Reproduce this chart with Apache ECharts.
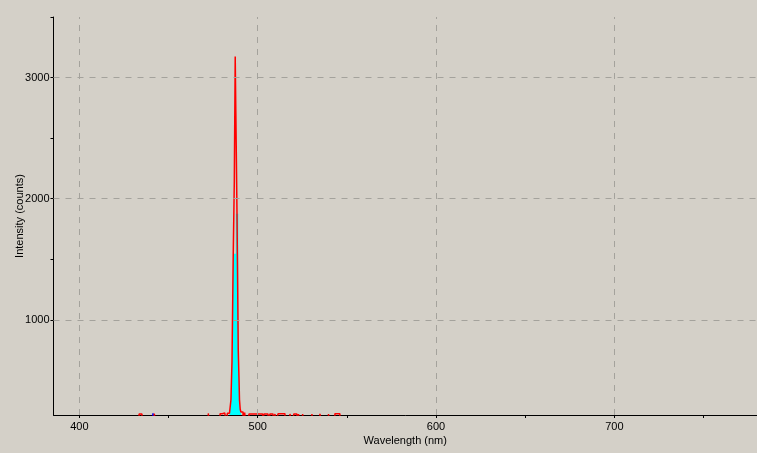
<!DOCTYPE html>
<html>
<head>
<meta charset="utf-8">
<script src="https://cdn.jsdelivr.net/npm/echarts@6/dist/echarts.min.js"></script>
<style>
html,body{margin:0;padding:0;background:#d4d0c8;}
#chart{width:757px;height:453px;}
</style>
</head>
<body>
<div id="chart"></div>
<script>
// Axis ranges and ticks
const xMin = 385.5, xMax = 780;
const yMin = 215, yMax = 3500;
const xTickValues = [400, 450, 500, 550, 600, 650, 700, 750];
const xLabelValues = [400, 500, 600, 700];
const yTickValues = [1000, 1500, 2000, 2500, 3000, 3500];
const yLabelValues = [1000, 2000, 3000];
const xGridValues = [400, 500, 600, 700];
const yGridValues = [1000, 2000, 3000];

// Red spectrum (step, value holds to the right of each wavelength)
const redWavelengths = [385.5, 433.5, 435.1, 442.0, 442.8, 472.3, 472.8, 478.9, 480.2, 481.5, 482.6, 483.0,
  484.2, 485.0, 485.6, 486.3, 486.9, 487.4, 487.75, 488.4, 489.1, 489.5, 489.8, 490.2, 490.6, 491.8,
  492.7, 493.2, 495.1, 502.8, 503.5, 505.8, 506.9, 508.6, 509.7, 510.3, 511.4, 515.3, 518.1, 519.2,
  520.3, 522.0, 522.9, 523.4, 525.2, 525.7, 530.4, 531.1, 534.9, 536.0, 539.7, 540.2, 543.3, 546.1, 780];
const redValues = [150, 223, 150, 226, 150, 228, 150, 226, 232, 226, 150, 230,
  241, 339, 655, 1545, 2149, 3174, 2711, 1876, 752, 531, 340, 262, 240, 150,
  235, 150, 223, 150, 223, 150, 223, 150, 223, 150, 225, 150, 223, 150,
  223, 150, 223, 150, 223, 150, 223, 150, 225, 150, 223, 150, 225, 150, 150];

// Cyan filled spectrum
const cyanWavelengths = [483.0, 484.2, 485.0, 485.6, 486.3, 487.75, 489.1, 489.5, 489.8, 490.2, 490.6, 491.4];
const cyanValues = [150, 235, 320, 640, 1545, 1876, 752, 531, 340, 262, 235, 150];

// Blue trace
const blueWavelengths = [440.8, 441.3, 442.2, 443.0];
const blueValues = [150, 229, 150, 150];

const zip = (xs, ys) => xs.map((x, i) => [x, ys[i]]);

const font = 'Liberation Sans, Arial, sans-serif';
const chart = echarts.init(document.getElementById('chart'), null, {renderer: 'canvas'});

const gridLineStyle = {color: '#a4a29c', width: 1, type: [6, 6]};

chart.setOption({
  backgroundColor: '#d4d0c8',
  animation: false,
  grid: {left: 53.5, top: 17, right: 0, bottom: 38, containLabel: false, outerBoundsMode: 'none'},
  xAxis: {
    type: 'value', min: xMin, max: xMax,
    name: 'Wavelength (nm)', nameLocation: 'middle', nameGap: 20, nameMoveOverlap: false,
    nameTextStyle: {color: '#000', fontSize: 11, fontFamily: font},
    axisLine: {show: true, lineStyle: {color: '#000', width: 1}},
    axisTick: {show: true, length: 3, customValues: xTickValues, lineStyle: {color: '#000'}},
    axisLabel: {color: '#000', fontSize: 11, fontFamily: font, margin: 6, customValues: xLabelValues,
      formatter: v => String(v)},
    splitLine: {show: false}
  },
  yAxis: {
    type: 'value', min: yMin, max: yMax,
    name: 'Intensity (counts)', nameLocation: 'middle', nameGap: 28, nameMoveOverlap: false,
    nameTextStyle: {color: '#000', fontSize: 11, fontFamily: font},
    axisLine: {show: true, lineStyle: {color: '#000', width: 1}},
    axisTick: {show: true, length: 3, customValues: yTickValues, lineStyle: {color: '#000'}},
    axisLabel: {color: '#000', fontSize: 11, fontFamily: font, margin: 4, customValues: yLabelValues,
      formatter: v => String(v)},
    splitLine: {show: false}
  },
  series: [
    {
      type: 'line', name: 'grid', data: [], z: 1, silent: true,
      markLine: {
        silent: true, symbol: 'none', animation: false,
        label: {show: false},
        lineStyle: gridLineStyle,
        data: xGridValues.map(v => ({xAxis: v})).concat(yGridValues.map(v => ({yAxis: v})))
      }
    },
    {
      type: 'line', name: 'cyan', step: 'end', symbol: 'none', z: 2,
      data: zip(cyanWavelengths, cyanValues),
      lineStyle: {width: 0, color: '#00ffff'},
      areaStyle: {color: '#00ffff', opacity: 1}
    },
    {
      type: 'line', name: 'blue', step: 'end', symbol: 'none', z: 3,
      data: zip(blueWavelengths, blueValues),
      lineStyle: {width: 1.5, color: '#0000ff'}
    },
    {
      type: 'line', name: 'red', step: 'end', symbol: 'none', z: 4,
      data: zip(redWavelengths, redValues),
      lineStyle: {width: 1.5, color: '#ff0000'}
    }
  ]
});
</script>
</body>
</html>
